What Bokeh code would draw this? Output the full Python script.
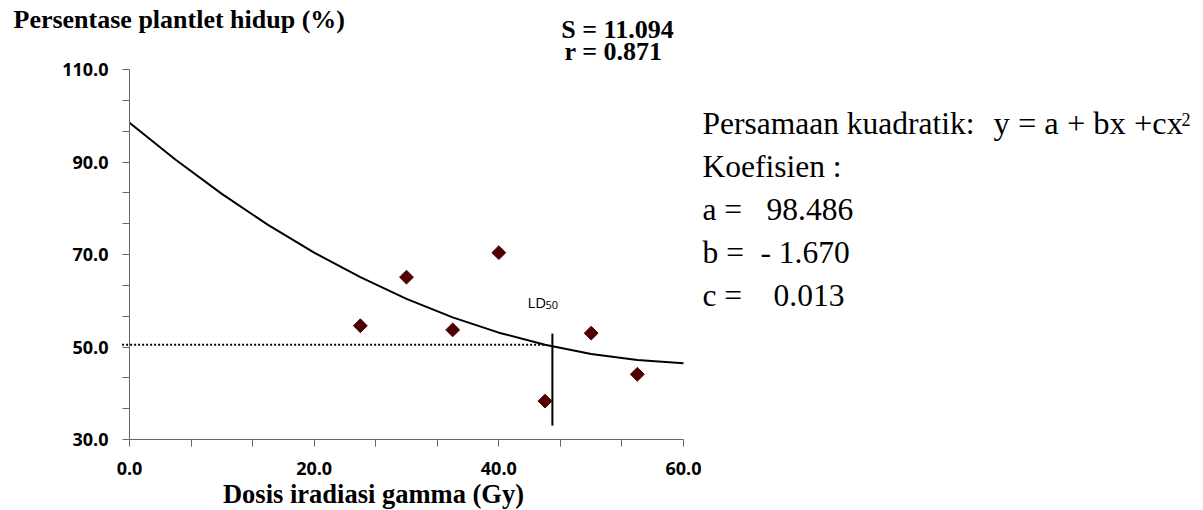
from bokeh.plotting import figure
from bokeh.models import Range1d, FixedTicker, PrintfTickFormatter, Label
from bokeh.embed import file_html
from bokeh.resources import INLINE
import math

# ---- data ----
dose = [25, 30, 35, 40, 45, 50, 55]
survival = [54.6, 65.1, 53.7, 70.4, 38.3, 53.0, 44.1]

fit_x = [0, 5, 10, 15, 20, 25, 30, 35, 40, 45, 50, 55, 60]
fit_y = [98.5, 90.5, 83.1, 76.4, 70.4, 65.1, 60.4, 56.4, 53.1, 50.5, 48.5, 47.2, 46.5]

ld50_x = [45.8, 45.8]
ld50_y = [33.0, 52.9]
ref50_x = [-0.8, 45.0]
ref50_y = [50.5, 50.5]

x_ticks = [0, 20, 40, 60]
y_ticks = [30, 50, 70, 90, 110]

# ---- layout geometry (picture pixels) ----
FL, FR, FT, FB = 129, 683, 69, 439     # where the axes box lies
W, H = 1203, 510
X0, X1, Y0, Y1 = x_ticks[0], x_ticks[-1], y_ticks[0], y_ticks[-1]


def dx(px):
    return X0 + (px - FL) * (X1 - X0) / (FR - FL)


def dy(py):
    return Y0 + (FB - py) * (Y1 - Y0) / (FB - FT)


p = figure(width=W, height=H, output_backend="svg", toolbar_location=None,
           x_range=Range1d(dx(0), dx(W)), y_range=Range1d(dy(H), dy(0)),
           min_border=0)
p.min_border_left = 0
p.min_border_right = 0
p.min_border_top = 0
p.min_border_bottom = 0
p.outline_line_color = None
p.grid.visible = False
p.background_fill_color = "white"
p.border_fill_color = "white"


def minors(t):
    out = []
    for a, b in zip(t[:-1], t[1:]):
        out += [a + (b - a) * k / 3 for k in (1, 2)]
    return out


p.xaxis.fixed_location = Y0
p.yaxis.fixed_location = X0
p.xaxis.bounds = (X0, X1)
p.yaxis.bounds = (Y0, Y1)
for ax, ticks in ((p.xaxis, x_ticks), (p.yaxis, y_ticks)):
    ax.ticker = FixedTicker(ticks=ticks, minor_ticks=minors(ticks))
    ax.formatter = PrintfTickFormatter(format="%.1f")
    ax.axis_line_color = "#666666"
    ax.major_tick_line_color = "#666666"
    ax.minor_tick_line_color = "#666666"
    ax.major_tick_in = 0
    ax.major_tick_out = 7
    ax.minor_tick_in = 0
    ax.minor_tick_out = 7
    ax.major_label_text_font = "Open Sans"
    ax.major_label_text_font_style = "bold"
    ax.major_label_text_font_size = "18px"
    ax.major_label_text_color = "black"
p.xaxis.major_label_standoff = 15
p.yaxis.major_label_standoff = 14

# fitted quadratic curve
p.line(fit_x, fit_y, line_color="black", line_width=2)
# LD50 guides
p.line(ref50_x, ref50_y, line_color="black", line_width=2, line_dash="2 2")
p.line(ld50_x, ld50_y, line_color="black", line_width=2)
# observed points
p.scatter(dose, survival, marker="square", size=9.8, angle=math.pi / 4,
          fill_color="#500000", line_color="#500000")


def lab(text, px, py, size, font="Liberation Serif", style="normal", align="left"):
    # py is the wanted baseline; the renderer places text about 0.38 em lower
    py = py - 0.38 * size
    p.add_layout(Label(x=dx(px), y=dy(py), text=text, text_font=font,
                       text_font_style=style, text_font_size=f"{size}px",
                       text_align=align, text_baseline="alphabetic",
                       text_color="black"))


lab("Persentase plantlet hidup (%)", 13, 29, 26, style="bold")
lab("S = 11.094", 617, 39, 26, style="bold", align="center")
lab("r = 0.871", 613, 61, 26, style="bold", align="center")
lab("Dosis iradiasi gamma (Gy)", 373, 504, 26.5, style="bold", align="center")

lab("LD", 527, 307, 15, font="Open Sans")
lab("50", 545, 309, 11, font="Open Sans")

lab("Persamaan kuadratik:", 702, 135, 31.5)
lab("y = a + bx +cx", 993, 135, 32.5)
lab("2", 1181, 126, 18)
lab("Koefisien :", 702, 178, 31.5)
lab("a =", 702, 221, 31.5)
lab("98.486", 766, 221, 31.5)
lab("b =", 702, 264, 31.5)
lab("- 1.670", 760, 264, 31.5)
lab("c =", 702, 307, 31.5)
lab("0.013", 773, 307, 31.5)

open("out.html", "w").write(file_html(p, INLINE))
